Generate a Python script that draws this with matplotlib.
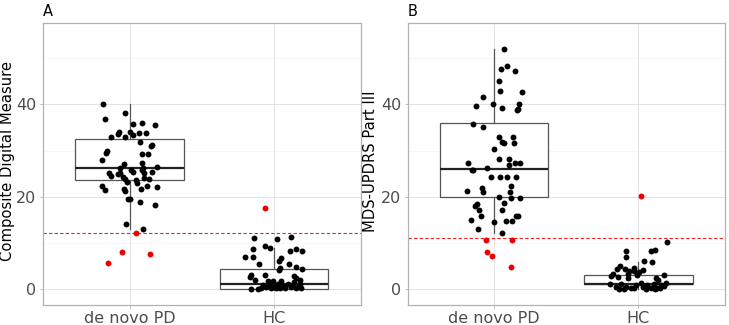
import numpy as np
import matplotlib.pyplot as plt
from matplotlib.ticker import MultipleLocator

groups = ['de novo PD', 'HC']

# panel A - composite digital measure (jitter offset, value)
a_pd_off = [-0.182, -0.034, -0.170, 0.021, 0.085, 0.179, -0.129, -0.078, -0.074, -0.034, 0.0, 0.023,
            0.064, 0.117, 0.074, 0.145, 0.156, -0.156, -0.166, 0.087, 0.131, -0.189, -0.037, 0.087,
            0.189, 0.092, -0.064, 0.009, 0.023, 0.087, 0.156, -0.145, -0.126, -0.083, -0.064, -0.048,
            -0.028, -0.018, 0.044, 0.055, 0.101, 0.101, 0.138, -0.193, -0.172, -0.041, -0.032, 0.080,
            0.122, 0.189, -0.011, 0.002, 0.071, 0.179, -0.023, 0.094]
a_pd_val = [40.1, 38.1, 36.8, 35.8, 35.9, 35.5, 33.0, 33.6, 34.0, 32.9, 34.0, 33.4,
            33.9, 33.9, 31.8, 31.0, 31.3, 29.8, 29.4, 29.3, 29.2, 27.9, 27.0, 27.2,
            26.4, 26.3, 26.1, 25.8, 25.4, 25.8, 25.3, 25.1, 24.5, 24.8, 25.1, 24.3,
            23.8, 23.2, 23.6, 23.0, 24.1, 25.1, 23.8, 22.4, 21.4, 21.7, 21.3, 21.6,
            22.2, 22.0, 19.5, 19.4, 18.9, 18.2, 14.1, 12.9]
a_pd_red_off = [0.044, -0.051, 0.140, -0.147]
a_pd_red_val = [12.1, 8.1, 7.6, 5.6]

a_hc_off = [-0.140, 0.021, 0.117, -0.147, -0.067, -0.028, 0.110, 0.152, 0.191, -0.200, -0.149,
            0.044, 0.034, -0.108, 0.103, 0.152, 0.191, 0.037, 0.032, -0.159, -0.170, -0.067,
            -0.136, 0.136, 0.152, 0.175, -0.163, -0.113, -0.078, -0.055, -0.032, -0.021, 0.002,
            0.025, 0.037, 0.060, 0.076, 0.094, 0.113, 0.129, 0.152, 0.168, 0.186, -0.090,
            -0.044, -0.009, 0.014, 0.048, 0.140, 0.175]
a_hc_val = [11.0, 10.8, 11.3, 8.7, 9.4, 8.8, 8.2, 8.6, 8.3, 6.9, 6.9,
            6.6, 6.1, 5.4, 5.4, 4.7, 4.3, 4.5, 4.1, 2.9, 2.5, 3.0,
            1.9, 2.7, 2.3, 2.0, 0.0, 0.0, 0.9, 0.4, 1.0, 0.1, 0.5,
            1.0, 0.1, 0.7, 0.1, 1.0, 0.3, 0.9, 0.1, 0.7, 0.1, 0.1,
            1.6, 1.7, 0.1, 1.6, 1.4, 1.0]
a_hc_red_off = [-0.064]
a_hc_red_val = [17.5]

# panel B - MDS-UPDRS Part III
b_pd_off = [0.067, 0.044, 0.090, 0.145, 0.034, 0.037, 0.189, -0.078, -0.124, -0.007, 0.057, 0.175,
            0.168, 0.159, -0.147, -0.078, 0.030, 0.133, 0.055, 0.069, 0.140, -0.005, 0.032, 0.099,
            -0.184, 0.145, 0.177, 0.101, -0.154, -0.145, -0.051, -0.023, 0.041, 0.090, 0.154, 0.115,
            -0.087, -0.076, -0.189, 0.108, 0.032, 0.115, 0.179, 0.069, -0.133, -0.122, -0.106, 0.051,
            -0.090, -0.163, 0.0, 0.083, 0.126, 0.154, 0.168, -0.113, 0.057]
b_pd_val = [52.1, 47.6, 48.3, 47.3, 45.0, 43.0, 42.7, 41.7, 39.6, 40.1, 39.3, 40.1,
            39.0, 38.8, 35.7, 35.0, 33.0, 33.0, 31.8, 31.7, 31.7, 30.3, 28.2, 28.2,
            27.2, 27.2, 27.2, 26.9, 25.8, 25.8, 26.1, 24.3, 24.3, 24.2, 24.2, 22.3,
            21.8, 21.0, 21.2, 21.1, 19.9, 19.8, 19.6, 18.7, 18.0, 18.3, 17.0, 17.0,
            15.9, 14.9, 14.4, 14.7, 14.8, 15.8, 15.7, 12.9, 12.1]
b_pd_red_off = [-0.060, 0.126, -0.053, -0.016, 0.113]
b_pd_red_val = [10.6, 10.6, 8.1, 7.2, 4.8]

b_hc_off = [0.195, -0.085, -0.085, 0.085, 0.117, 0.039, 0.097, -0.126, -0.152, -0.092, -0.064,
            -0.071, -0.030, -0.034, 0.005, 0.028, -0.179, -0.191, -0.145, -0.076, -0.011, 0.177,
            0.120, 0.136, -0.195, -0.156, -0.122, -0.087, -0.053, -0.018, 0.016, 0.034, 0.062,
            0.085, 0.108, 0.131, 0.154, 0.177, 0.189, -0.133, -0.099, -0.030, 0.051, 0.113, 0.149]
b_hc_val = [10.1, 8.3, 7.0, 8.3, 8.4, 6.1, 5.9, 4.9, 4.3, 4.3, 3.9,
            3.2, 4.5, 3.8, 3.6, 4.1, 3.2, 2.7, 2.5, 2.3, 2.9, 2.9,
            2.3, 2.0, 1.0, 0.5, 1.0, 0.3, 0.2, 0.9, 1.2, 0.3, 0.9,
            0.2, 1.0, 0.2, 0.9, 0.7, 1.2, 0.0, 0.0, 0.2, 0.0, 0.0, 0.1]
b_hc_red_off = [0.016]
b_hc_red_val = [20.1]

# box stats: whislo, q1, med, q3, whishi
a_box = [[12.9, 23.5, 26.1, 32.5, 40.0], [0.0, 0.0, 1.1, 4.3, 8.8]]
b_box = [[12.1, 20.0, 26.0, 35.9, 52.0], [0.0, 1.0, 1.0, 3.0, 5.8]]
cutoffs = [12.1, 11.0]
ylabels = ['Composite Digital Measure', 'MDS-UPDRS Part III']
panel_tags = ['A', 'B']

fig = plt.figure(figsize=(7.29, 3.25), dpi=100)
ax_a = fig.add_axes([0.0586, 0.0615, 0.4366, 0.8685])
ax_b = fig.add_axes([0.5593, 0.0615, 0.4352, 0.8685])

panels = [
    (ax_a, a_box, [(a_pd_off, a_pd_val), (a_hc_off, a_hc_val)],
     [(a_pd_red_off, a_pd_red_val), (a_hc_red_off, a_hc_red_val)]),
    (ax_b, b_box, [(b_pd_off, b_pd_val), (b_hc_off, b_hc_val)],
     [(b_pd_red_off, b_pd_red_val), (b_hc_red_off, b_hc_red_val)]),
]
label_x = [-0.087, -0.095]

for k, (ax, boxes, black, red) in enumerate(panels):
    stats = []
    for s in boxes:
        stats.append({'whislo': s[0], 'q1': s[1], 'med': s[2], 'q3': s[3], 'whishi': s[4], 'fliers': []})
    ax.bxp(stats, positions=[1, 2], widths=0.75, patch_artist=True, showcaps=False,
           boxprops=dict(facecolor='white', edgecolor='#555555', lw=0.9),
           whiskerprops=dict(color='#555555', lw=0.9),
           medianprops=dict(color='#222222', lw=1.6), zorder=2)
    for i, (off, val) in enumerate(black):
        ax.scatter(np.array(off) + i + 1, val, s=18, color='black', linewidths=0, zorder=3)
    for i, (off, val) in enumerate(red):
        ax.scatter(np.array(off) + i + 1, val, s=18, color='#ee0000', linewidths=0, zorder=3)
    ax.axhline(cutoffs[k], color='#ee2222', lw=0.8, linestyle=(0, (3, 2)), zorder=2.5)

    ax.set_xlim(0.4, 2.6)
    ax.set_ylim(-3.5, 57.7)
    ax.set_xticks([1, 2])
    ax.set_xticklabels(groups)
    ax.set_yticks([0, 20, 40])
    ax.yaxis.set_minor_locator(MultipleLocator(10))
    ax.grid(which='major', color='#dedede', lw=0.6, zorder=0)
    ax.grid(which='minor', axis='y', color='#efefef', lw=0.4, zorder=0)
    ax.set_axisbelow(True)
    for sp in ax.spines.values():
        sp.set_color('#b3b3b3')
        sp.set_linewidth(0.9)
    ax.tick_params(which='major', length=2.5, width=0.6, color='#b3b3b3', labelcolor='#4d4d4d',
                   labelsize=11.5, pad=2)
    ax.tick_params(which='minor', length=0)
    ax.set_ylabel(ylabels[k], fontsize=10.6)
    ax.yaxis.set_label_coords(label_x[k], 0.51)
    ax.text(0.0, 1.025, panel_tags[k], transform=ax.transAxes, fontsize=10.5, ha='left', va='baseline')

plt.savefig('out.png', dpi=100)
